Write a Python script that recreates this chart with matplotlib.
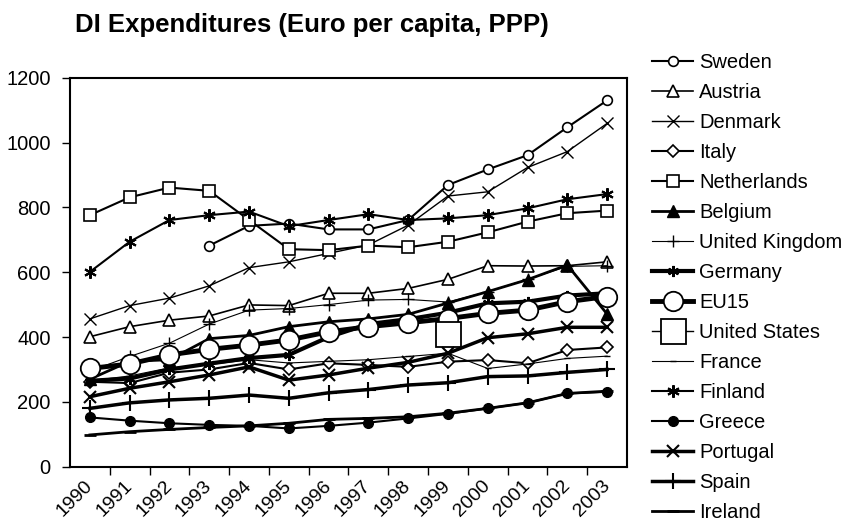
import numpy as np
import matplotlib
matplotlib.use("Agg")
import matplotlib.pyplot as plt

plt.rcParams['font.family'] = ['Liberation Sans', 'DejaVu Sans']

nan = np.nan
years = [str(y) for y in range(1990, 2004)]

sweden      = [nan, nan, nan, 682, 743, 750, 732, 732, 761, 869, 917, 961, 1047, 1130]
austria     = [401, 432, 452, 465, 499, 497, 535, 535, 550, 578, 620, 619, 620, 632]
denmark     = [456, 497, 520, 558, 614, 632, 658, 684, 745, 835, 848, 923, 972, 1059]
italy       = [262, 258, 290, 300, 320, 300, 319, 314, 308, 324, 329, 319, 360, 368]
netherlands = [776, 831, 861, 851, 761, 671, 668, 682, 677, 694, 723, 756, 782, 790]
belgium     = [270, 325, 330, 395, 405, 432, 447, 456, 470, 505, 540, 577, 622, 471]
uk          = [295, 340, 381, 440, 483, 488, 500, 514, 516, 508, 540, 578, 618, 620]
germany     = [265, 272, 300, 318, 335, 345, 400, 440, 455, 475, 504, 509, 528, 535]
eu15        = [303, 317, 345, 362, 375, 391, 416, 432, 444, 457, 473, 483, 509, 525]
us          = [nan, nan, nan, nan, nan, nan, nan, nan, nan, 408, nan, nan, nan, nan]
france      = [265, 280, 305, 315, 330, 320, 325, 330, 340, 350, 303, 317, 334, 341]
finland     = [601, 694, 761, 776, 787, 742, 761, 779, 761, 766, 776, 797, 825, 841]
greece      = [152, 142, 134, 129, 126, 118, 126, 136, 149, 163, 180, 197, 226, 231]
portugal    = [216, 242, 262, 283, 308, 267, 283, 304, 322, 350, 398, 410, 430, 430]
spain       = [180, 197, 206, 211, 221, 211, 228, 238, 252, 259, 278, 280, 291, 300]
ireland     = [98, 108, 115, 121, 126, 134, 146, 149, 154, 165, 180, 197, 226, 233]

asterisk = (6, 2, 0)
series = [
    ("Sweden", sweden, dict(marker='o', ms=7, mfc='white', lw=1.5, mew=1.2)),
    ("Austria", austria, dict(marker='^', ms=8, mfc='white', lw=1.2, mew=1.2)),
    ("Denmark", denmark, dict(marker='x', ms=8, lw=1.0, mew=1.0)),
    ("Italy", italy, dict(marker='D', ms=6, mfc='white', lw=1.5, mew=1.2)),
    ("Netherlands", netherlands, dict(marker='s', ms=8, mfc='white', lw=1.5, mew=1.2)),
    ("Belgium", belgium, dict(marker='^', ms=8, mfc='black', lw=2.0)),
    ("United Kingdom", uk, dict(marker='+', ms=9, lw=0.8, mew=1.0)),
    ("Germany", germany, dict(marker=asterisk, ms=8, lw=3.0, mew=1.5)),
    ("EU15", eu15, dict(marker='o', ms=14, mfc='white', lw=3.5, mew=1.3)),
    ("United States", us, dict(marker='s', ms=18, mfc='white', lw=1.0, mew=1.3)),
    ("France", france, dict(marker='_', ms=5, lw=0.8, mew=1.0)),
    ("Finland", finland, dict(marker=asterisk, ms=9, lw=1.5, mew=1.5)),
    ("Greece", greece, dict(marker='o', ms=7, mfc='black', lw=1.5)),
    ("Portugal", portugal, dict(marker='x', ms=9, lw=2.5, mew=1.5)),
    ("Spain", spain, dict(marker='+', ms=11, lw=2.5, mew=1.5)),
    ("Ireland", ireland, dict(marker='_', ms=8, lw=2.0, mew=2.0)),
]

fig = plt.figure(figsize=(8.45, 5.24), dpi=100)
ax = fig.add_axes([70/845, 1-466.7/524, (627-70)/845, (466.7-77.7)/524])

x = np.arange(len(years))
handles = []
for name, vals, st in series:
    h, = ax.plot(x, vals, color='black', mec='black', label=name, **st)
    handles.append(h)

ax.set_xlim(-0.5, len(years) - 0.5)
ax.set_ylim(0, 1200)
ax.set_yticks(range(0, 1201, 200))
ax.set_xticks(x)
ax.set_xticklabels(years, rotation=45, ha='right', va='center', rotation_mode='anchor')
ax.set_xticks(np.arange(0.5, len(years) - 1, 1), minor=True)
ax.tick_params(axis='x', which='major', length=0, pad=12, labelsize=14)
ax.tick_params(axis='x', which='minor', length=6, width=1, direction='out')
ax.tick_params(axis='y', length=6, width=1, direction='out', labelsize=14.5, pad=8)
for s in ax.spines.values():
    s.set_linewidth(1.5)

fig.text(75/845, 1-32/524, "DI Expenditures (Euro per capita, PPP)", fontsize=18.5,
         fontweight='bold', ha='left', va='baseline')

fig.legend(handles=handles, loc='upper left', bbox_to_anchor=(652/845, 1-53/524),
           frameon=False, fontsize=14.5, handlelength=2.05, handletextpad=0.3,
           labelspacing=0.545, borderpad=0, borderaxespad=0, numpoints=1)

fig.savefig("out.png", dpi=100)
